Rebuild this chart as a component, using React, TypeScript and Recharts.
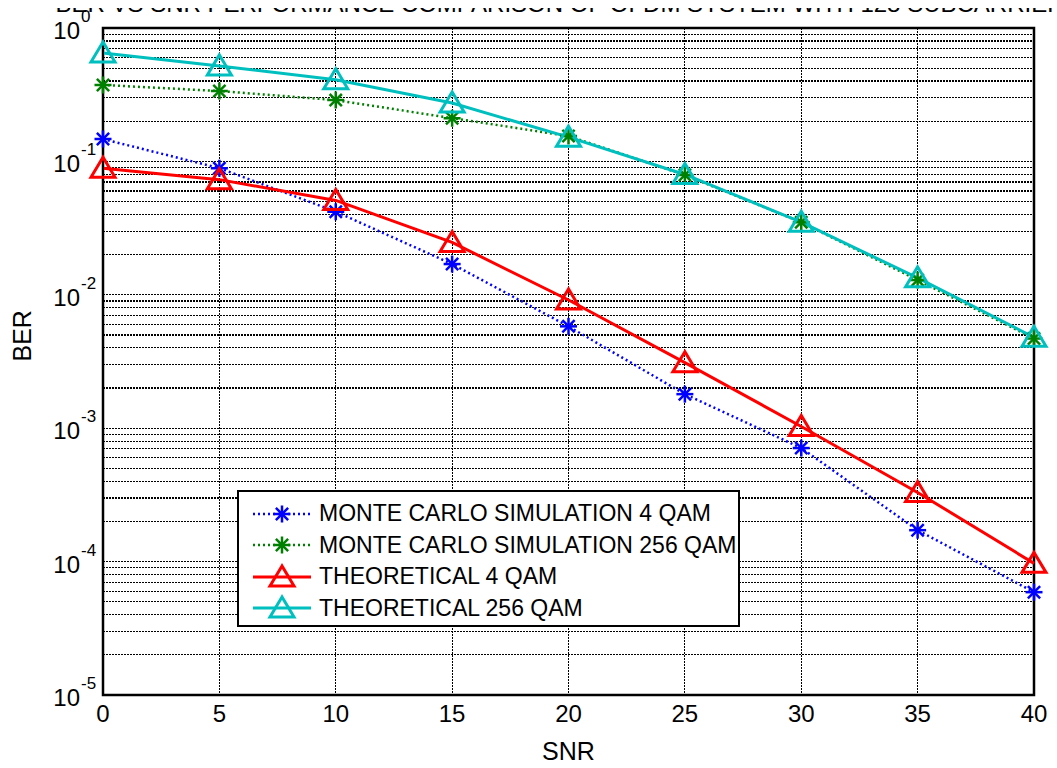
import React from 'react';
import {
  LineChart, Line, XAxis, YAxis, CartesianGrid, ReferenceArea,
} from 'recharts';

// SNR values (dB)
const snr = [0, 5, 10, 15, 20, 25, 30, 35, 40];
// BER values
const mc4Qam = [0.147, 0.089, 0.042, 0.017, 0.0058, 0.0018, 0.00071, 0.000172, 0.000059];
const mc256Qam = [0.374, 0.337, 0.288, 0.211, 0.155, 0.079, 0.035, 0.0129, 0.0047];
const theory4Qam = [0.089, 0.073, 0.051, 0.0247, 0.00914, 0.0031, 0.00103, 0.00033, 0.000097];
const theory256Qam = [0.65, 0.52, 0.41, 0.274, 0.152, 0.0798, 0.035, 0.0134, 0.0048];

const xTicks = [0, 5, 10, 15, 20, 25, 30, 35, 40];
const decades = [-5, -4, -3, -2, -1];
const yTicks: number[] = [];
decades.forEach((e) => {
  for (let m = 1; m <= 9; m++) yTicks.push(m * Math.pow(10, e));
});
yTicks.push(1);

const data = snr.map((s, i) => ({
  snr: s,
  mc4: mc4Qam[i],
  mc256: mc256Qam[i],
  th4: theory4Qam[i],
  th256: theory256Qam[i],
}));

const FONT = 'Arial, "Liberation Sans", Helvetica, sans-serif';

const makeStar = (color: string) => (props: any) => {
  const { cx, cy, index } = props;
  if (cx == null || cy == null) return <g key={index} />;
  const r = 8.5;
  const d = r * 0.72;
  return (
    <g key={`s-${index}`} stroke={color} strokeWidth={2.5}>
      <line x1={cx - r} y1={cy} x2={cx + r} y2={cy} />
      <line x1={cx} y1={cy - r} x2={cx} y2={cy + r} />
      <line x1={cx - d} y1={cy - d} x2={cx + d} y2={cy + d} />
      <line x1={cx - d} y1={cy + d} x2={cx + d} y2={cy - d} />
    </g>
  );
};

const makeTriangle = (color: string) => (props: any) => {
  const { cx, cy, index } = props;
  if (cx == null || cy == null) return <g key={index} />;
  return (
    <polygon
      key={`t-${index}`}
      points={`${cx},${cy - 11} ${cx - 12},${cy + 9} ${cx + 12},${cy + 9}`}
      fill="none"
      stroke={color}
      strokeWidth={3}
    />
  );
};

const YTick = (props: any) => {
  const { x, y, payload } = props;
  const v = payload.value;
  const exp = Math.round(Math.log10(v));
  if (Math.abs(v - Math.pow(10, exp)) > 1e-12 * Math.pow(10, exp + 1)) return <g />;
  return (
    <g>
      <text x={x - 15} y={y + 11} textAnchor="end" fontSize={24} fontFamily={FONT} fill="#000">10</text>
      <text x={x - 14} y={y - 6} textAnchor="start" fontSize={17} fontFamily={FONT} fill="#000">{exp}</text>
    </g>
  );
};

const XTick = (props: any) => {
  const { x, y, payload } = props;
  return (
    <text x={x} y={y + 19} textAnchor="middle" fontSize={24} fontFamily={FONT} fill="#000">
      {payload.value}
    </text>
  );
};

const legendItems = [
  { label: 'MONTE CARLO SIMULATION 4 QAM', color: '#0000ff', dotted: true, marker: 'star' },
  { label: 'MONTE CARLO SIMULATION 256 QAM', color: '#008000', dotted: true, marker: 'star' },
  { label: 'THEORETICAL 4 QAM', color: '#ff0000', dotted: false, marker: 'tri' },
  { label: 'THEORETICAL 256 QAM', color: '#00bfbf', dotted: false, marker: 'tri' },
];

const LegendBox = () => (
  <div
    style={{
      position: 'absolute', left: 237, top: 490, width: 503, height: 137,
      border: '2px solid #000', background: '#fff', boxSizing: 'border-box', padding: '6px 0 0 12px',
    }}
  >
    {legendItems.map((it) => (
      <div key={it.label} style={{ display: 'flex', alignItems: 'center', height: 31.5 }}>
        <svg width={62} height={30}>
          <line
            x1={2} y1={15} x2={60} y2={15}
            stroke={it.color}
            strokeWidth={it.dotted ? 2.5 : 3}
            strokeDasharray={it.dotted ? '2 3' : undefined}
          />
          {it.marker === 'star'
            ? makeStar(it.color)({ cx: 31, cy: 15, index: 0 })
            : makeTriangle(it.color)({ cx: 31, cy: 15, index: 0 })}
        </svg>
        <span style={{ marginLeft: 6, fontSize: 23, fontFamily: FONT, color: '#000', whiteSpace: 'nowrap' }}>
          {it.label}
        </span>
      </div>
    ))}
  </div>
);

export default function App() {
  return (
    <div style={{ position: 'absolute', left: 0, top: 0, width: 1057, height: 768, background: '#fff', overflow: 'hidden' }}>
      <LineChart width={1057} height={768} data={data} margin={{ top: 28, right: 23, bottom: 0, left: 0 }}>
        <text x={568} y={12} textAnchor="middle" fontSize={24} fontFamily={FONT} fill="#000">
          BER VS SNR PERFORMANCE COMPARISON OF OFDM SYSTEM WITH 128 SUBCARRIERS
        </text>
        <rect x={0} y={0} width={1057} height={8} fill="#fff" />
        <CartesianGrid stroke="#000" strokeDasharray="2 1" strokeWidth={1.2} shapeRendering="crispEdges" />
        <XAxis
          dataKey="snr"
          type="number"
          domain={[0, 40]}
          ticks={xTicks}
          interval={0}
          height={73}
          tick={<XTick />}
          tickLine={false}
          axisLine={{ stroke: '#000', strokeWidth: 2 }}
          label={{ value: 'SNR', position: 'insideBottom', offset: 8, fontSize: 25, fontFamily: FONT, fill: '#000' }}
        />
        <YAxis
          scale="log"
          domain={[1e-5, 1]}
          allowDataOverflow
          ticks={yTicks}
          interval={0}
          width={103}
          tick={<YTick />}
          tickLine={false}
          axisLine={{ stroke: '#000', strokeWidth: 2 }}
          label={{ value: 'BER', angle: -90, position: 'insideLeft', offset: 22, fontSize: 25, fontFamily: FONT, fill: '#000' }}
        />
        <Line dataKey="mc4" stroke="#0000ff" strokeWidth={2.5} strokeDasharray="2 3" dot={makeStar('#0000ff')} isAnimationActive={false} />
        <Line dataKey="mc256" stroke="#008000" strokeWidth={2.5} strokeDasharray="2 3" dot={makeStar('#008000')} isAnimationActive={false} />
        <Line dataKey="th4" stroke="#ff0000" strokeWidth={3} dot={makeTriangle('#ff0000')} isAnimationActive={false} />
        <Line dataKey="th256" stroke="#00bfbf" strokeWidth={3} dot={makeTriangle('#00bfbf')} isAnimationActive={false} />
        <ReferenceArea x1={0} x2={40} y1={1e-5} y2={1} fill="none" stroke="#000" strokeWidth={2.5} ifOverflow="visible" />
      </LineChart>
      <LegendBox />
    </div>
  );
}
